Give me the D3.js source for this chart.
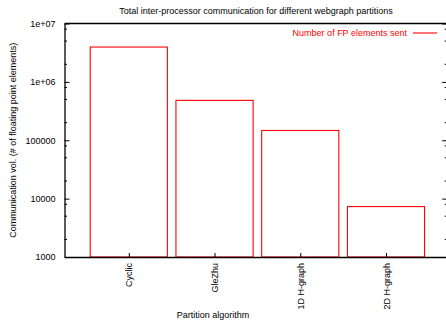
<!DOCTYPE html>
<html>
<head>
<meta charset="utf-8">
<script src="https://cdn.jsdelivr.net/npm/d3@7"></script>
<style>
  body { margin: 0; background: #fff; }
  text { font-family: "Liberation Sans", Arial, sans-serif; }
</style>
</head>
<body>
<div class="chart-container"></div>
<script>
const categories = ["Cyclic", "GleZhu", "1D H-graph", "2D H-graph"];
const fpSent = [3950000, 482000, 147000, 7300];
const yTicks = [1000, 10000, 100000, 1000000, 10000000];
const yTickLabels = ["1000", "10000", "100000", "1e+06", "1e+07"];
const minorMult = [2, 5, 8];

const margin = { top: 23.5, right: 0, bottom: 64, left: 64.5 },
      width = 446 - margin.left - margin.right,
      height = 321 - margin.top - margin.bottom;

const svg = d3.select(".chart-container").append("svg")
    .attr("width", 446)
    .attr("height", 321);

const g = svg.append("g")
    .attr("transform", "translate(" + margin.left + "," + margin.top + ")");

const x = d3.scaleLinear()
    .domain([-0.75, 3.7])
    .range([0, width]);

const y = d3.scaleLog()
    .domain([1000, 10000000])
    .range([height, 0]);

const boxWidth = 0.9;
const rightEdge = width + 1.2; // right border sits just past the picture edge

// bars
g.selectAll("rect.bar")
    .data(fpSent)
    .enter().append("rect")
    .attr("class", "bar")
    .attr("x", (d, i) => x(i - boxWidth / 2))
    .attr("width", x(boxWidth) - x(0))
    .attr("y", d => y(d))
    .attr("height", d => height - y(d))
    .attr("fill", "none")
    .attr("stroke", "#ff0000")
    .attr("stroke-width", 1.1);

// minor ticks on the log axis
const minors = [];
for (let k = 0; k < yTicks.length - 1; k++) {
    minorMult.forEach(m => minors.push(yTicks[k] * m));
}
g.selectAll("line.minor-l")
    .data(minors)
    .enter().append("line")
    .attr("x1", 0).attr("x2", 2.5)
    .attr("y1", d => y(d)).attr("y2", d => y(d))
    .attr("stroke", "#000").attr("stroke-width", 1);
g.selectAll("line.minor-r")
    .data(minors)
    .enter().append("line")
    .attr("x1", rightEdge).attr("x2", rightEdge - 2.5)
    .attr("y1", d => y(d)).attr("y2", d => y(d))
    .attr("stroke", "#000").attr("stroke-width", 1);

// y axis
const yAxis = g.append("g")
    .call(d3.axisLeft(y).tickValues(yTicks)
        .tickFormat((d, i) => yTickLabels[i])
        .tickSizeInner(-5).tickSizeOuter(0).tickPadding(9));
yAxis.select(".domain").attr("stroke-width", 1.3);
yAxis.selectAll("text").attr("font-size", 9).attr("fill", "#000")
    .attr("font-family", "Liberation Sans, Arial, sans-serif");

// right mirror ticks
g.append("g")
    .attr("transform", "translate(" + rightEdge + ",0)")
    .call(d3.axisRight(y).tickValues(yTicks).tickFormat("")
        .tickSizeInner(-5).tickSizeOuter(0))
    .select(".domain").attr("stroke-width", 1.3);

// x axis
const xAxis = g.append("g")
    .attr("transform", "translate(0," + height + ")")
    .call(d3.axisBottom(x).tickValues(d3.range(categories.length))
        .tickFormat((d, i) => categories[i])
        .tickSizeInner(-4).tickSizeOuter(0));
xAxis.select(".domain").attr("stroke-width", 1.3);
xAxis.selectAll("text")
    .attr("font-size", 9).attr("fill", "#000")
    .attr("font-family", "Liberation Sans, Arial, sans-serif")
    .attr("transform", "rotate(-90)")
    .attr("text-anchor", "end")
    .attr("x", -6).attr("y", 0).attr("dy", "0.35em");

// top border
g.append("line")
    .attr("x1", 0).attr("x2", rightEdge)
    .attr("y1", 0).attr("y2", 0)
    .attr("stroke", "#000").attr("stroke-width", 1.3);

// title
svg.append("text")
    .attr("x", 256).attr("y", 14)
    .attr("text-anchor", "middle")
    .attr("font-size", 9)
    .text("Total inter-processor communication for different webgraph partitions");

// axis labels
svg.append("text")
    .attr("x", 213).attr("y", 318)
    .attr("text-anchor", "middle")
    .attr("font-size", 9)
    .text("Partition algorithm");

svg.append("text")
    .attr("transform", "translate(16," + (margin.top + height / 2) + ") rotate(-90)")
    .attr("text-anchor", "middle")
    .attr("font-size", 9)
    .text("Communication vol. (# of floating point elements)");

// legend
svg.append("text")
    .attr("x", 407).attr("y", 36)
    .attr("text-anchor", "end")
    .attr("font-size", 9)
    .attr("fill", "#ff0000")
    .text("Number of FP elements sent");
svg.append("line")
    .attr("x1", 413).attr("x2", 437)
    .attr("y1", 33).attr("y2", 33)
    .attr("stroke", "#ff0000").attr("stroke-width", 1.1);
</script>
</body>
</html>
